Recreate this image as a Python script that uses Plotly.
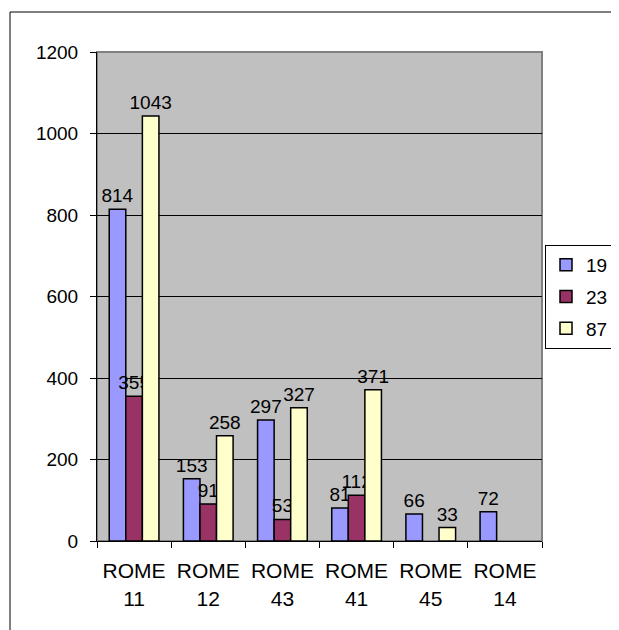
import plotly.graph_objects as go

categories = ["ROME<br>11", "ROME<br>12", "ROME<br>43", "ROME<br>41", "ROME<br>45", "ROME<br>14"]
series_names = ["19", "23", "87"]
values_19 = [814, 153, 297, 81, 66, 72]
values_23 = [355, 91, 53, 112, None, None]
values_87 = [1043, 258, 327, 371, 33, None]
colors = ["#9999FF", "#993366", "#FFFFCC"]
y_ticks = [0, 200, 400, 600, 800, 1000, 1200]

# page body has an 8px margin; figure coordinates = screen - 8
OFF = 8
W, H = 619, 630
L, R, T, B = 97 - OFF, 542 - OFF, 52 - OFF, 541 - OFF

FONT = "Liberation Sans, Arial, sans-serif"
fig = go.Figure()
for name, vals, col in zip(series_names, [values_19, values_23, values_87], colors):
    fig.add_trace(go.Bar(
        x=categories, y=vals, name=name,
        marker=dict(color=col, line=dict(color="black", width=1.5)),
        text=[("" if v is None else str(v)) for v in vals],
        textposition="outside", cliponaxis=False, constraintext="none",
        textfont=dict(family=FONT, size=19, color="black"),
        legendgroup=name,
    ))

fx = lambda px: (px - OFF - L) / (R - L)
fy = lambda py: (B - (py - OFF)) / (B - T)

fig.update_layout(
    width=W, height=H,
    margin=dict(l=L, r=W - R, t=T, b=H - B, pad=0, autoexpand=False),
    paper_bgcolor="white", plot_bgcolor="#C0C0C0",
    barmode="group", bargap=0.33, bargroupgap=0,
    font=dict(family=FONT, size=19, color="black"),
    showlegend=True,
    legend=dict(
        x=fx(545), xanchor="left",
        y=fy(245), yanchor="top",
        bordercolor="black", borderwidth=1, bgcolor="white",
        font=dict(family=FONT, size=19, color="black"),
        tracegroupgap=4, itemwidth=30,
    ),
    xaxis=dict(
        showline=True, linecolor="black", linewidth=1,
        ticks="outside", ticklen=6, tickcolor="black", tickson="boundaries",
        showgrid=False, ticklabelstandoff=11,
        tickfont=dict(family=FONT, size=21, color="black"),
    ),
    yaxis=dict(
        range=[0, 1200], tickvals=y_ticks,
        showline=True, linecolor="black", linewidth=1,
        ticks="outside", ticklen=6, tickcolor="black",
        showgrid=True, gridcolor="black", gridwidth=1,
        zeroline=False, ticklabelstandoff=8,
        tickfont=dict(family=FONT, size=19, color="black"),
    ),
    shapes=[
        dict(type="rect", xref="paper", yref="paper", x0=0, x1=1, y0=0, y1=1,
             line=dict(color="#808080", width=2), layer="below"),
        dict(type="line", xref="paper", yref="paper",
             x0=fx(10), x1=fx(660), y0=fy(12), y1=fy(12),
             line=dict(color="black", width=1)),
        dict(type="line", xref="paper", yref="paper",
             x0=fx(10), x1=fx(10), y0=fy(12), y1=fy(680),
             line=dict(color="black", width=1)),
    ],
)

fig.write_html("out.html")
